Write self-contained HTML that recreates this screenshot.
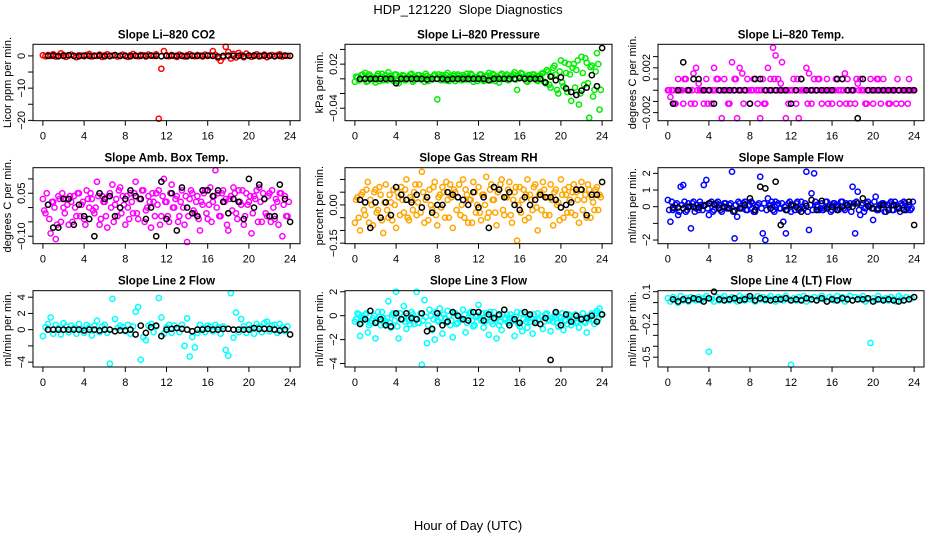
<!DOCTYPE html>
<html><head><meta charset="utf-8"><style>
html,body{margin:0;padding:0;background:#fff}
svg{display:block;font-family:"Liberation Sans",sans-serif}
</style></head><body>
<svg id="chart" width="936" height="540" viewBox="0 0 936 540" xmlns="http://www.w3.org/2000/svg">
<text x="468" y="14" font-size="13" text-anchor="middle" style="white-space:pre">HDP_121220  Slope Diagnostics</text>
<text x="468" y="530" font-size="13" text-anchor="middle">Hour of Day (UTC)</text>
<g id="panels"></g>
</svg>
<script>
const H = [0,0.25,0.5,0.75,1,1.25,1.5,1.75,2,2.25,2.5,2.75,
3,3.25,3.5,3.75,4,4.25,4.5,4.75,5,5.25,5.5,5.75,
6,6.25,6.5,6.75,7,7.25,7.5,7.75,8,8.25,8.5,8.75,
9,9.25,9.5,9.75,10,10.25,10.5,10.75,11,11.25,11.5,11.75,
12,12.25,12.5,12.75,13,13.25,13.5,13.75,14,14.25,14.5,14.75,
15,15.25,15.5,15.75,16,16.25,16.5,16.75,17,17.25,17.5,17.75,
18,18.25,18.5,18.75,19,19.25,19.5,19.75,20,20.25,20.5,20.75,
21,21.25,21.5,21.75,22,22.25,22.5,22.75,23,23.25,23.5,23.75];
const H2 = [0.125,0.375,0.625,0.875,1.125,1.375,1.625,1.875,2.125,2.375,2.625,2.875,
3.125,3.375,3.625,3.875,4.125,4.375,4.625,4.875,5.125,5.375,5.625,5.875,
6.125,6.375,6.625,6.875,7.125,7.375,7.625,7.875,8.125,8.375,8.625,8.875,
9.125,9.375,9.625,9.875,10.125,10.375,10.625,10.875,11.125,11.375,11.625,11.875,
12.125,12.375,12.625,12.875,13.125,13.375,13.625,13.875,14.125,14.375,14.625,14.875,
15.125,15.375,15.625,15.875,16.125,16.375,16.625,16.875,17.125,17.375,17.625,17.875,
18.125,18.375,18.625,18.875,19.125,19.375,19.625,19.875,20.125,20.375,20.625,20.875,
21.125,21.375,21.625,21.875,22.125,22.375,22.625,22.875,23.125,23.375,23.625,23.875];
const K = [0.5,1,1.5,2,2.5,3,3.5,4,4.5,5,5.5,6,
6.5,7,7.5,8,8.5,9,9.5,10,10.5,11,11.5,12,
12.5,13,13.5,14,14.5,15,15.5,16,16.5,17,17.5,18,
18.5,19,19.5,20,20.5,21,21.5,22,22.5,23,23.5,24];
const xTicks = [0,4,8,12,16,20,24];

const co2Col = [0.2,-0.1,0.3,0,0.5,-0.2,0.1,0.8,0.3,-0.3,0.1,0.4,
0,-0.4,0.2,0.1,-0.1,0.3,0.6,-0.2,0.1,0,0.4,-0.3,
0.2,0.5,-0.1,0.1,0.3,-0.2,0,0.4,0.1,-0.3,0.2,0.6,
0,-0.1,0.3,0.2,-0.2,0.4,0.1,0,0.5,-19.5,-4,1.5,
0.2,-0.1,0.3,0,-0.3,0.4,0.1,-0.2,0.2,0.5,0,-0.1,
0.3,0.1,-0.2,0.4,0,0.2,1.5,0.3,-0.6,-1.5,-0.4,2.8,
1.2,-0.8,0.6,-0.5,0.9,0.3,-0.4,0.7,0.1,-0.3,0.2,0.5,
-0.2,0,0.4,-0.4,0.1,0.3,-0.1,0.2,0.5,-0.2,0.1,0];
const co2Blk = [0,0.1,-0.1,0,0.2,0,-0.1,0.1,0,0,0.1,-0.1,
0,0.2,0,0,-0.1,0.1,0,0,0.1,0,-0.1,0,
0.1,0,0,-0.1,0.1,0,0,0.1,0,-0.2,0,0.1,
0,0,-0.1,0.1,0,0,0.1,0,-0.1,0,0.1,0];

const presCol = [-0.004,0.002,-0.001,0.006,0.008,-0.003,0.004,0.001,-0.005,0.007,0.003,-0.002,
0.005,0.009,0.001,-0.003,0.006,-0.006,0.002,0.004,-0.001,0.003,0.007,-0.002,
0.001,0.005,0.003,-0.004,0.004,0.002,-0.001,0.006,-0.028,0.003,0.005,-0.002,
0.008,0.001,0.004,-0.003,0.006,0.002,0.005,-0.001,0.003,0.007,-0.004,0.002,
0.001,0.006,-0.003,0.004,0.008,-0.002,0.005,0.003,-0.005,0.007,0.002,0.006,
-0.001,0.004,0.009,-0.015,0.003,0.007,0.001,-0.004,0.005,0.006,0.002,-0.003,
0.004,0.008,-0.006,0.01,-0.012,0.015,0.006,-0.02,0.025,-0.01,0.008,0.02,
-0.03,0.02,0.012,-0.035,0.03,-0.008,0.022,-0.053,0.018,-0.015,0.035,-0.042];
const presCol2 = [0.003,-0.002,0.005,0,-0.004,0.006,0.002,-0.001,0.004,-0.003,0.007,0.001,
-0.002,0.004,0,0.006,-0.003,0.003,0.005,-0.002,0.001,0.006,-0.004,0.002,
0.005,-0.001,0.003,0.007,-0.003,0.002,0.004,0,0.006,-0.002,0.003,0.005,
-0.003,0.002,0.006,0,0.004,-0.002,0.003,0.007,-0.001,0.005,0.002,-0.003,
0.006,0.001,-0.002,0.004,0.003,0.007,-0.003,0.002,0.005,0,0.004,-0.002,
0.003,0.006,-0.001,0.004,0.008,0.002,-0.003,0.005,0.003,0.006,-0.002,0.004,
0.007,-0.004,0.012,-0.008,0.004,0.018,-0.015,0.01,-0.005,0.022,-0.018,0.006,
0.015,-0.012,0.025,-0.02,0.008,0.028,-0.006,0.016,-0.024,0.01,0.02,-0.015];
const presBlk = [0,0,0,0,0,0,0,-0.006,0,0,0,0,
0,-0.001,0,0,0,-0.001,0,0,0,0,0,0,
0,-0.002,0,0,0,0,0,0.001,0,0,0,0,
-0.005,0.003,-0.002,0.002,-0.013,-0.018,-0.022,-0.016,-0.012,0.005,-0.01,0.042];

const tempCol = [0,-0.0006,0,-0.0012,0.001,0,-0.0012,0.001,0,-0.0012,0.0015,0.002,
0.0006,0,-0.0012,0.001,0,-0.0012,0.002,0.001,0,-0.0025,0.001,0,
-0.0012,0.0025,0.001,-0.0025,0.002,0.0015,0,0.001,-0.0012,0,0.001,-0.0012,
-0.0025,0.001,-0.0012,0.002,0.001,0.0038,0.0031,0.001,0.0006,0,-0.0025,-0.0012,
0,0.001,-0.0012,-0.0025,0.001,0,0.002,0.0015,-0.0012,0.001,0,0.001,
-0.0012,0,0.001,0,-0.0012,0,0.001,-0.0012,0.001,0.0015,0.001,-0.0012,
0,-0.0012,0.0006,0.001,0,-0.0012,0,0.001,-0.0012,0,0.001,-0.0012,
0.001,0,-0.0012,0,0,-0.0012,0,-0.0012,0,0,0.001,0];
const tempCol2 = [0,0,-0.0012,0,0,0,0.001,0,0,0,-0.0012,0,
0,0,0,-0.0012,0,0,0,0.001,0,0,0,-0.0012,
0,0,0.001,0,0,-0.0012,0,0,0,0.001,0,0,
0,-0.0012,0,0,0,0.001,0,0,0.0025,0,0,0,
0,0,0.001,0,0,0,-0.0012,0,0,0,0.001,0,
0,0,-0.0012,0,0,0.001,0,0,0,-0.0012,0,0,
0,0.001,0,0,0,-0.0012,0,0,0,0.001,0,0,
0,0,-0.0012,0,0,0.001,0,0,0,-0.0012,0,0];
const tempBlk = [-0.0012,0,0.0025,0,0.001,0.001,0,0,-0.0012,0,0,0,
0,0,0,-0.0012,0.001,0.001,0,0,0,0,0,-0.0012,
0,0.001,0,0,0,0,0,0,0.001,0.001,0,0,
-0.0025,0.001,0,0,0,0,0,0,0,0,0,0];

const ambCol = [0.03,-0.02,0.01,-0.09,0.02,-0.11,0.04,-0.05,0,0.03,-0.06,0.02,
0.04,-0.03,0.05,0.01,-0.04,0.06,0,0.03,-0.02,0.09,-0.06,0.04,
0.02,-0.07,0.05,0.08,0.01,-0.03,0.07,0.04,-0.06,0,0.05,-0.02,
0.09,-0.04,0.03,0.06,-0.01,0.04,-0.07,0.02,0.05,0.06,-0.03,0.1,
0.02,-0.05,0.08,0,0.04,-0.03,0.06,-0.06,-0.12,0.03,0.05,-0.02,
0.04,-0.08,0.01,0.06,-0.04,0.07,0.02,0.13,0.05,-0.03,0.06,0.03,
-0.08,0.04,0.07,-0.02,0.06,0.01,-0.06,0.05,0.02,-0.09,0.04,0.06,
0.07,-0.05,0.03,-0.03,0.05,0.06,-0.04,0.02,0.05,-0.1,0.04,-0.03];
const ambCol2 = [-0.01,0.05,-0.04,0.02,0,-0.06,0.03,0.05,-0.02,0.01,0.04,-0.05,
0,0.05,-0.03,0.02,-0.06,0.03,0.05,-0.01,0,0.04,-0.04,0.02,
-0.03,0.04,0,-0.05,0.03,0.06,-0.02,0.01,0.04,-0.04,0.02,0.05,
-0.02,0.03,0.06,-0.05,0,0.02,0.05,-0.03,0.01,-0.06,0.04,0.02,
-0.03,0.05,0,0.03,-0.05,0.02,0,0.04,-0.03,0.06,-0.01,0.02,
-0.04,0.02,0.05,-0.02,0.01,-0.05,0.04,0,-0.03,0.05,0.02,-0.06,
0.03,-0.01,0.05,-0.04,0.02,0.06,-0.03,0.01,0.04,-0.02,0.03,-0.05,
0.02,0.05,-0.02,0.04,-0.05,0,0.03,-0.06,0.05,0.01,-0.03,0.02];
const ambBlk = [0.01,-0.07,-0.07,0.03,0.03,-0.06,0.01,-0.03,-0.04,-0.1,0.05,0.03,
0.04,-0.03,0,0.03,0.06,0.04,0.03,-0.04,0,-0.1,0.09,-0.04,
0.05,-0.08,0.07,0,-0.02,-0.03,0.06,0.06,0.04,0.06,0.02,-0.02,
0.03,0.02,-0.04,0.1,0,0.08,0.03,-0.03,-0.03,0.08,0.03,-0.05];

const rhCol = [-0.07,0.03,-0.1,0.05,-0.04,0.09,0.02,-0.08,0.06,-0.02,0.04,-0.11,
0.08,-0.05,0.01,0.06,-0.09,0.03,0.07,-0.03,0.1,-0.06,0.02,0.05,
-0.04,0.08,0.13,-0.07,0.03,0.06,-0.02,0.09,-0.08,0.04,0.07,-0.05,
0.02,0.08,-0.09,0.05,0.03,-0.04,0.1,0.06,-0.07,0.02,0.09,-0.03,
0.07,-0.06,0.04,0.11,-0.03,0.08,0.02,-0.08,0.06,0.1,-0.04,0.03,
0.09,-0.07,0.05,-0.14,0.07,0.02,-0.06,0.1,0.04,-0.02,0.08,-0.1,
0.05,0.09,-0.04,0.03,0.08,-0.08,0.06,0.01,0.1,-0.05,0.04,0.07,
-0.03,0.08,0.05,-0.07,0.09,0.02,-0.05,0.06,0.03,-0.02,0.07,0.04];
const rhCol2 = [0.02,-0.05,0.04,-0.02,0.06,-0.07,0,0.05,-0.03,0.07,-0.06,0.01,
-0.02,0.04,-0.06,0,0.05,-0.04,0.02,0.06,-0.05,0.03,-0.02,0.08,
0.01,-0.03,0.05,0.02,-0.06,0,0.07,-0.04,0.03,-0.01,0.05,0.09,
-0.05,0.03,0.06,-0.02,0.08,0,-0.05,0.04,0.02,-0.07,0.05,0,
-0.03,0.04,0,-0.05,0.06,0.02,-0.03,0.05,0.08,-0.02,0.03,0.06,
-0.04,0.02,0.07,0,-0.03,0.06,0.04,-0.05,0.02,0.07,-0.01,0.04,
-0.02,0.06,0.03,-0.04,0.02,0.05,0,-0.06,0.04,0.06,-0.03,0.02,
0.05,-0.04,0.02,0.06,-0.02,0.04,0.08,-0.05,0.01,0.06,-0.02,0.03];
const rhBlk = [0.02,0.01,-0.09,0.01,-0.05,0.01,-0.04,0.07,0.04,0.02,0.01,0.04,
-0.01,0.03,-0.03,0,0,0.05,0.04,0.03,0.02,0,0.05,-0.01,
0.03,-0.09,0.07,0.06,0.03,0.05,0,-0.02,0.03,0,0.02,0.04,
0.03,0.03,0.02,-0.01,0,0.01,0.06,0.06,-0.04,0.04,0.04,0.09];

const sampCol = [0.4,-0.9,-0.2,0.1,-0.5,1.2,1.3,-0.3,0.2,-1.3,0.3,-0.1,
-0.2,0.1,1.3,1.6,-0.5,0.3,-0.2,0.2,0.1,-0.3,0.2,-0.1,
0.1,2.1,-1.9,-0.6,0.2,-0.1,0.3,-0.2,0.1,0.2,-0.3,0.1,
1.8,-1.6,-2.0,0.5,0.1,-0.2,0.3,0.2,-0.1,-0.9,-1.6,0.2,
-0.3,0.1,0.2,-0.2,0.3,-0.1,2.1,-1.4,0.8,2.0,0.1,-0.2,
0.2,-0.1,0.3,0.1,-0.2,0.2,0.1,-0.1,0.3,-0.2,0.1,0.2,
1.2,-1.6,0.9,-0.5,0.2,-0.1,0.3,0.1,-0.8,0.6,-0.2,0.1,
0.2,-0.3,0.1,0.3,-0.2,0.1,-0.1,0.2,0.3,-0.2,0.1,-0.1];
const sampCol2 = [-0.2,0.3,-0.1,0.2,-0.3,0.1,0.3,-0.2,0,0.2,-0.3,0.1,
0.3,-0.2,0.1,-0.1,0.2,-0.3,0.1,0.3,-0.2,0,0.2,-0.1,
0.2,-0.3,0.1,0.3,-0.1,0.2,-0.2,0.1,0.3,-0.3,0,0.2,
-0.1,0.2,-0.2,0.1,0.3,-0.3,0.1,-0.1,0.2,0,-0.2,0.3,
0.1,-0.2,0.3,-0.1,0,0.2,-0.3,0.1,-0.2,0.3,0,-0.1,
-0.2,0.3,0,-0.3,0.2,0.1,-0.2,0.3,-0.1,0.2,0,-0.3,
0.2,0.3,-0.2,0.1,-0.3,0.2,0,-0.1,0.3,-0.2,0.1,0.2,
-0.3,0.1,0.2,-0.2,0.3,0,-0.3,0.1,0.2,-0.1,-0.2,0.3];
const sampBlk = [-0.05,-0.05,-0.1,0,0,-0.05,0.05,0.2,0.15,-0.1,0,-0.1,
-0.25,-0.1,0.1,0.5,-0.2,1.2,1.1,-0.1,1.5,-1.1,-0.2,0.1,
0,-0.3,0.05,0.4,-0.2,0.35,-0.1,0,-0.2,0,0.1,0,
0.2,0.5,0.05,-0.1,-0.1,0.1,-0.2,0.1,-0.1,-0.2,0.3,-1.1];

const l2Col = [-0.8,0.3,0.7,1.5,-0.5,0.6,0.2,-0.6,0.8,0.4,-0.3,0.5,
0.2,-0.5,0.7,0.1,-0.4,0.6,0.3,-0.7,0.5,1.1,-0.3,0.4,
0.6,-0.4,-4.2,3.8,1.3,0.2,0.5,0.3,-0.2,0.6,-0.5,0.4,
2.2,2.8,-3.7,-0.9,-1.3,0.5,0.7,-0.3,0.4,3.9,1.5,-0.5,
0.3,0.6,-0.4,0.5,0.2,-0.3,0.6,-2.0,1.4,-3.3,-0.9,-2.2,
-0.4,0.6,0.2,-0.3,0.5,0.4,-0.2,0.6,0.3,-0.5,0.4,-2.5,
-3.2,4.5,-1.0,2.1,-0.3,1.3,0.4,-0.4,0.6,0.2,-0.5,0.7,
0.4,-0.3,0.8,1.0,-0.2,0.5,0.6,-0.4,0.7,0.3,-0.2,0.4];
const l2Blk = [0,0,0,0,0,0,0,-0.1,0,0,-0.1,0,
0,-0.2,-0.1,-0.1,0,-0.6,0.5,-0.4,0.3,0.5,-0.8,0,
0.1,0.2,0.1,0,-0.2,0,0,0.1,0,0,0.1,0.1,
0,0,0,0,0.2,0.1,0.1,0.1,0,-0.1,0,-0.6];

const l3Col = [-0.5,0.2,-1.7,-0.3,0.1,-1.4,-0.6,-0.2,-1.9,0.3,-0.8,-0.2,
-0.5,1.2,-1.0,0.2,2.0,-1.9,-0.3,0.8,-1.1,-0.4,0.3,-0.7,
2.0,-0.6,-4.1,1.3,-2.3,0.5,-1.2,-2.0,-0.4,0.6,-1.5,-0.2,
0.4,-0.8,-1.8,0.2,-0.6,-0.3,0.5,-1.4,-0.2,0.3,-0.9,-0.1,
0.9,-0.4,-1.0,0.2,-1.6,-0.5,0.3,-1.9,-0.8,-1.2,-0.3,0.1,
-0.6,-0.2,-1.7,0.3,-0.9,-1.3,0.1,-1.0,-0.5,-1.5,-0.4,0.2,
-0.7,-1.1,0.1,-0.3,-1.3,-0.5,0.2,-0.9,-0.2,-1.2,-0.4,0.1,
-0.8,-0.3,-0.6,-1.0,-0.2,-0.5,-1.4,-0.3,0.2,-0.7,0.4,0.6];
const l3Col2 = [-0.3,0.1,-0.6,-0.2,0.2,-0.8,-0.4,0,-0.5,-0.1,0.3,-0.7,
-0.2,-0.6,0.1,-0.4,-0.9,0.2,-0.3,-0.5,0,-0.7,0.1,-0.2,
-0.6,0.2,-0.4,-0.1,-0.8,0,-0.3,0.3,-0.5,-0.2,0.1,-0.6,
0,-0.4,0.2,-0.7,-0.1,-0.3,0.1,-0.6,0.2,-0.4,-0.8,0,
-0.2,0.2,-0.5,-0.1,0.3,-0.7,-0.3,0,-0.5,0.1,-0.2,-0.6,
0.1,-0.4,-0.1,-0.7,0.2,-0.3,-0.5,0,-0.2,0.1,-0.6,-0.3,
-0.1,-0.5,0.2,-0.4,-0.2,0,-0.6,-0.1,0.2,-0.4,-0.7,0,
-0.3,0.1,-0.5,-0.2,0.2,-0.6,-0.1,0,-0.4,0.2,-0.3,0.1];
const l3Blk = [-0.7,-0.3,0.4,-0.6,-0.3,-0.8,-0.9,0.2,-0.3,0.2,-0.2,-0.3,
0.2,-1.3,-1.1,0.2,-0.8,-0.5,0.3,0,-0.3,-0.4,0.3,0.3,
-0.4,0.1,-0.2,0.1,0.5,-0.8,-0.3,-0.6,0.3,0.1,-0.6,-0.7,
-0.2,-3.7,0.3,-0.8,0.1,-0.5,0,-0.3,-0.2,0,-0.5,0.1];

const l4Col = [0.04,0.01,0.05,0.03,0,0.06,0.02,0.04,0.01,0.05,0.03,0.02,
0.05,0.02,0.04,0.06,-0.45,0.03,0.01,0.05,0.02,0.04,0.06,0.03,
0.02,0.05,0.03,0.01,0.06,0.04,0.02,0.05,0.03,0.04,0.01,0.06,
0.03,0.05,0.02,0.04,0.06,0.03,0.01,0.05,0.04,0.02,0.06,0.03,
-0.57,0.04,0.02,0.05,0.03,0.06,0.01,0.04,0.03,0.05,0.02,0.04,
0.06,0.03,0.01,0.05,0.04,0.02,0.06,0.03,0.05,0.01,0.04,0.06,
0.02,0.05,0.03,0.04,0.06,0.01,0.03,-0.37,0.04,0.02,0.06,0.03,
0.03,0.04,0.02,0.05,0.03,0.01,0.06,0.04,0.02,0.05,0.03,0.04];
const l4Blk = [0.03,0.01,0.03,0.02,0.04,0.03,0.01,0.04,0.1,0.03,0.02,0.03,
0.04,0.02,0.03,0.06,0.02,0.04,0.03,0.02,0.03,0.03,0.04,0.02,
0.03,0.02,0.04,0.03,0.02,0.04,0.01,0.03,0.02,0.04,0.03,0.02,
0.03,0.03,0.04,0.01,0.03,0.02,0.03,0.02,0.01,0.02,0.03,0.05];

const NS = "http://www.w3.org/2000/svg";
const root = document.getElementById('panels');
function mk(tag, attrs, parent){const e=document.createElementNS(NS,tag);for(const k in attrs)e.setAttribute(k,attrs[k]);parent.appendChild(e);return e;}

const colsX = [[33,300],[345,612],[658,924]];
const rowsY = [[44.3,120.7],[167.7,243.7],[290.7,367]];
const panels = [
 {id:'co2',title:'Slope Li\u2013820 CO2',yl:'Licor ppm per min.',dom:[-20.1,3.6],ticks:[0,-5,-10,-15,-20],labs:[0,-10,-20],col:'#ff0000',c:co2Col,c2:null,k:co2Blk,fmt:v=>String(v).replace('-','\u2212')},
 {id:'pressure',title:'Slope Li\u2013820 Pressure',yl:'kPa per min.',dom:[-0.057,0.047],ticks:[0.04,0.02,0,-0.02,-0.04],labs:[0.02,-0.04],col:'#00ee00',c:presCol,c2:presCol2,k:presBlk,fmt:v=>v.toFixed(2).replace('-','\u2212')},
 {id:'temp',title:'Slope Li\u2013820 Temp.',yl:'degrees C per min.',dom:[-0.00272,0.0041],ticks:[0.003,0.002,0.001,0,-0.001,-0.002],labs:[0.002,-0.002],col:'#ff00ff',c:tempCol,c2:tempCol2,k:tempBlk,fmt:v=>v.toFixed(3).replace('-','\u2212')},
 {id:'amb-temp',title:'Slope Amb. Box Temp.',yl:'degrees C per min.',dom:[-0.126,0.139],ticks:[0.1,0.05,0,-0.05,-0.1],labs:[0.05,-0.1],col:'#ff00ff',c:ambCol,c2:ambCol2,k:ambBlk,fmt:v=>v.toFixed(2).replace('-','\u2212')},
 {id:'rh',title:'Slope Gas Stream RH',yl:'percent per min.',dom:[-0.152,0.146],ticks:[0.1,0.05,0,-0.05,-0.1,-0.15],labs:[0,-0.15],col:'#ffa500',c:rhCol,c2:rhCol2,k:rhBlk,fmt:v=>v.toFixed(2).replace('-','\u2212')},
 {id:'sample-flow',title:'Slope Sample Flow',yl:'ml/min per min.',dom:[-2.22,2.34],ticks:[2,1,0,-1,-2],labs:[2,1,0,-2],col:'#0000ff',c:sampCol,c2:sampCol2,k:sampBlk,fmt:v=>String(v).replace('-','\u2212')},
 {id:'line2-flow',title:'Slope Line 2 Flow',yl:'ml/min per min.',dom:[-4.6,4.8],ticks:[4,2,0,-2,-4],labs:[4,2,0,-4],col:'#00ffff',c:l2Col,c2:null,k:l2Blk,fmt:v=>String(v).replace('-','\u2212')},
 {id:'line3-flow',title:'Slope Line 3 Flow',yl:'ml/min per min.',dom:[-4.29,2.09],ticks:[2,0,-2,-4],labs:[2,0,-2,-4],col:'#00ffff',c:l3Col,c2:l3Col2,k:l3Blk,fmt:v=>String(v).replace('-','\u2212')},
 {id:'line4-flow',title:'Slope Line 4 (LT) Flow',yl:'ml/min per min.',dom:[-0.59,0.109],ticks:[0.1,0,-0.1,-0.2,-0.3,-0.4,-0.5],labs:[0.1,-0.2,-0.5],col:'#00ffff',c:l4Col,c2:null,k:l4Blk,fmt:v=>v.toFixed(1).replace('-','\u2212')}
];

panels.forEach((p,i)=>{
  const [x0,x1]=colsX[i%3], [y0,y1]=rowsY[Math.floor(i/3)];
  const xs = h => x0 + (h+0.96)/25.92*(x1-x0);
  const ys = v => y1 - (v-p.dom[0])/(p.dom[1]-p.dom[0])*(y1-y0);
  const g = mk('g',{},root);
  
  
  const t = mk('text',{x:(x0+x1)/2,y:y0-6,'font-size':11.5,'font-weight':'bold','text-anchor':'middle'},g);
  t.textContent=p.title;
  
  
  const yt = mk('text',{x:0,y:0,'font-size':11,'text-anchor':'middle',transform:`translate(${x0-22},${(y0+y1)/2}) rotate(-90)`},g);
  yt.textContent=p.yl;
  
  
  const pts = mk('g',{fill:'none','stroke-width':1.5,stroke:p.col},g);
  
  
  const n = Math.min(H.length,p.c.length);
  for(let j=0;j<n;j++){
    const c = mk('circle',{cx:xs(H[j]),cy:ys(p.c[j]),r:2.6},pts);
    
    
  }
  if(p.c2){
    const n2 = Math.min(H2.length,p.c2.length);
    for(let j=0;j<n2;j++){
      const c = mk('circle',{cx:xs(H2[j]),cy:ys(p.c2[j]),r:2.6},pts);
      
      
    }
  }
  const bk = mk('g',{fill:'none','stroke-width':1.5,stroke:'#000'},g);
  
  
  const m = Math.min(K.length,p.k.length);
  for(let j=0;j<m;j++){
    const c = mk('circle',{cx:xs(K[j]),cy:ys(p.k[j]),r:2.6},bk);
    
    
  }
  const box = mk('rect',{x:x0,y:y0,width:x1-x0,height:y1-y0,fill:'none',stroke:'#000','stroke-width':1},g);
  
  
  const xa = mk('g',{},g);
  
  
  xTicks.forEach(h=>{
    mk('line',{x1:xs(h),x2:xs(h),y1:y1,y2:y1+5,stroke:'#000'},xa);
    const l = mk('text',{x:xs(h),y:y1+19,'font-size':11,'text-anchor':'middle'},xa);
    l.textContent=h;
    
    
  });
  const ya = mk('g',{},g);
  
  
  p.ticks.forEach(v=>{
    mk('line',{x1:x0-5,x2:x0,y1:ys(v),y2:ys(v),stroke:'#000'},ya);
  });
  p.labs.forEach(v=>{
    const l = mk('text',{x:0,y:0,'font-size':11,'text-anchor':'middle',transform:`translate(${x0-8},${ys(v)}) rotate(-90)`},ya);
    l.textContent=p.fmt(v);
    
    
  });
});
</script>
</body></html>
